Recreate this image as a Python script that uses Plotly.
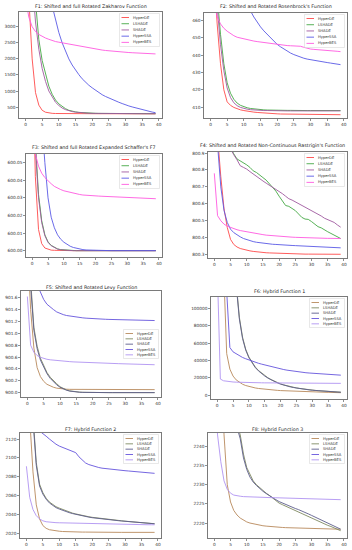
import plotly.graph_objects as go

W, H = 352, 550
iterations = list(range(40))
algorithms = ["HyperDE", "LSHADE", "SHADE", "HyperSSA", "HyperBES"]

titles = [
    "F1: Shifted and full Rotated Zakharov Function",
    "F2: Shifted and Rotated Rosenbrock's Function",
    "F3: Shifted and full Rotated Expanded Schaffer's F7",
    "F4: Shifted and Rotated Non-Continuous Rastrigin's Function",
    "F5: Shifted and Rotated Levy Function",
    "F6: Hybrid Function 1",
    "F7: Hybrid Function 2",
    "F8: Hybrid Function 3",
]

# ---------------- F1 ----------------
f1_hyperde = [9000, 3900, 2000, 950, 560, 400, 340, 315, 305, 300, 298, 297, 296, 296, 295, 295, 295, 294, 294, 294,
              294, 293, 293, 293, 293, 293, 292, 292, 292, 292, 292, 292, 291, 291, 291, 291, 291, 291, 290, 290]
f1_lshade = [12000, 8000, 5500, 3800, 2600, 1950, 1500, 1150, 900, 720, 600, 510, 450, 400, 370, 350, 335, 325, 318, 312,
             308, 305, 303, 302, 301, 300, 299, 299, 298, 298, 297, 297, 297, 296, 296, 296, 295, 295, 295, 295]
f1_shade = [10000, 7000, 4500, 3150, 2300, 1700, 1300, 1000, 800, 650, 550, 470, 420, 385, 360, 342, 330, 320, 314, 309,
            305, 303, 301, 300, 299, 298, 298, 297, 297, 296, 296, 296, 295, 295, 295, 294, 294, 294, 294, 294]
f1_hyperssa = [12000, 10000, 8500, 7300, 6300, 5500, 4800, 4200, 3650, 3200, 2820, 2500, 2230, 2000, 1810, 1650, 1510, 1380, 1270, 1180,
               1100, 1020, 950, 885, 830, 780, 735, 690, 650, 610, 565, 535, 505, 475, 445, 415, 390, 365, 345, 325]
f1_hyperbes = [3900, 3300, 3000, 2850, 2760, 2700, 2650, 2610, 2570, 2540, 2520, 2500, 2480, 2460, 2440, 2420, 2400, 2380, 2360, 2340,
               2320, 2305, 2290, 2275, 2262, 2250, 2240, 2230, 2220, 2212, 2205, 2198, 2192, 2186, 2180, 2175, 2170, 2165, 2160, 2155]

# ---------------- F2 ----------------
f2_hyperde = [520, 490, 458, 435, 420, 413, 411, 409.8, 409, 408.4, 408, 407.6, 407.3, 407.1, 406.9, 406.7, 406.5, 406.4, 406.3, 406.2,
              406.1, 406.0, 406.0, 405.9, 405.9, 405.9, 405.8, 405.8, 405.8, 405.8, 405.8, 405.7, 405.7, 405.7, 405.7, 405.7, 405.7, 405.7, 405.7, 405.6]
f2_lshade = [560, 510, 475, 452, 435, 424, 418, 414.5, 412.3, 411, 410.2, 409.6, 409.2, 408.9, 408.7, 408.5, 408.4, 408.3, 408.2, 408.2,
             408.1, 408.1, 408.1, 408.1, 408.1, 408.0, 408.0, 408.0, 408.0, 408.0, 408.0, 408.0, 408.0, 408.0, 408.0, 408.0, 408.0, 408.0, 408.0, 408.0]
f2_shade = [550, 500, 468, 446, 431, 421, 415.5, 412.5, 410.8, 409.8, 409.2, 408.8, 408.5, 408.3, 408.2, 408.1, 408.0, 408.0, 407.9, 407.9,
            407.9, 407.8, 407.8, 407.8, 407.8, 407.8, 407.8, 407.8, 407.8, 407.8, 407.8, 407.8, 407.8, 407.8, 407.8, 407.8, 407.8, 407.8, 407.8, 407.8]
f2_hyperssa = [540, 530, 520, 510, 500, 492, 486, 481, 477, 474, 471, 468, 465.5, 462, 459, 456.3, 454, 452, 450, 448,
               446.2, 444.8, 443.5, 442.3, 441.2, 440.3, 439.5, 438.8, 438.2, 437.7, 437.3, 436.9, 436.6, 436.3, 436.0, 435.7, 435.4, 435.1, 434.8, 434.5]
f2_hyperbes = [480, 470, 462, 458, 455.5, 453.8, 452.3, 451.2, 450.3, 449.8, 449.3, 448.9, 448.5, 448.1, 447.8, 447.5, 447.2, 447.0, 446.7, 446.4,
               446.2, 445.9, 445.7, 445.5, 445.4, 445.3, 445.2, 445.1, 444.5, 443.8, 443.5, 443.3, 443.2, 443.0, 442.8, 442.6, 442.5, 442.3, 442.2, 442.0]

# ---------------- F3 ----------------
f3_hyperde = [600.12, 600.042, 600.012, 600.004, 600.0015, 600.0007, 600.0003, 600.0002, 600.0001, 600.0001] + [600.0] * 30
f3_lshade = [600.15, 600.062, 600.032, 600.017, 600.009, 600.005, 600.003, 600.0018, 600.001, 600.0006,
             600.0004, 600.0002, 600.0001, 600.0001] + [600.0] * 26
f3_shade = [600.14, 600.058, 600.030, 600.016, 600.0085, 600.0047, 600.0028, 600.0016, 600.0009, 600.0005,
            600.0003, 600.0002, 600.0001] + [600.0] * 27
f3_hyperssa = [600.2, 600.15, 600.11, 600.075, 600.05, 600.03, 600.019, 600.013, 600.009, 600.0065,
               600.0048, 600.0035, 600.0025, 600.0018, 600.0013, 600.0009, 600.0006, 600.0004, 600.0003, 600.0002,
               600.0001] + [600.0] * 19
f3_hyperbes = [600.075, 600.055, 600.048, 600.044, 600.0415, 600.0395, 600.038, 600.0365, 600.0355, 600.0347,
               600.034, 600.0335, 600.033, 600.0326, 600.0322, 600.0319, 600.0316, 600.0314, 600.0313, 600.0312,
               600.0311, 600.031, 600.0309, 600.0308, 600.0307, 600.0306, 600.0305, 600.0304, 600.0303, 600.0302,
               600.0301, 600.03, 600.0299, 600.0299, 600.0298, 600.0297, 600.0297, 600.0296, 600.0296, 600.0295]

# ---------------- F4 ----------------
f4_hyperde = [801.5, 801.0, 800.76, 800.57, 800.46, 800.39, 800.36, 800.345, 800.336, 800.33, 800.326, 800.322, 800.319, 800.316, 800.314,
              800.312, 800.311, 800.31, 800.309, 800.308, 800.307, 800.306, 800.306, 800.305, 800.305, 800.304, 800.304, 800.304, 800.303,
              800.303, 800.303, 800.303, 800.302, 800.302, 800.302, 800.302, 800.302, 800.302, 800.302, 800.302]
f4_lshade = [801.3, 801.2, 801.1, 801.03, 800.97, 800.93, 800.895, 800.865, 800.853, 800.845, 800.83, 800.815, 800.795, 800.785, 800.768,
             800.755, 800.74, 800.72, 800.70, 800.675, 800.645, 800.615, 800.59, 800.585, 800.572, 800.56, 800.54, 800.52, 800.51, 800.508,
             800.495, 800.48, 800.465, 800.458, 800.445, 800.435, 800.425, 800.415, 800.405, 800.395]
f4_shade = [801.3, 801.2, 801.1, 801.02, 800.96, 800.92, 800.89, 800.86, 800.825, 800.815, 800.805, 800.79, 800.775, 800.762, 800.748,
            800.735, 800.722, 800.71, 800.698, 800.688, 800.675, 800.66, 800.645, 800.63, 800.622, 800.612, 800.6, 800.59, 800.578, 800.57,
            800.56, 800.55, 800.54, 800.528, 800.515, 800.505, 800.5, 800.49, 800.475, 800.462]
f4_hyperssa = [801.5, 800.95, 800.7, 800.56, 800.49, 800.45, 800.43, 800.415, 800.405, 800.395, 800.388, 800.382, 800.377, 800.373, 800.37,
               800.367, 800.365, 800.363, 800.361, 800.36, 800.358, 800.357, 800.356, 800.355, 800.354, 800.353, 800.352, 800.351, 800.35,
               800.349, 800.348, 800.347, 800.346, 800.345, 800.344, 800.343, 800.342, 800.341, 800.34, 800.34]
f4_hyperbes = [800.78, 800.53, 800.5, 800.48, 800.468, 800.46, 800.453, 800.447, 800.442, 800.438, 800.434, 800.43, 800.427, 800.424, 800.421,
               800.418, 800.415, 800.413, 800.411, 800.409, 800.407, 800.406, 800.405, 800.404, 800.403, 800.402, 800.401, 800.4, 800.4,
               800.399, 800.399, 800.398, 800.398, 800.397, 800.397, 800.396, 800.396, 800.396, 800.395, 800.395]

# ---------------- F5 ----------------
f5_hyperde = [902.5, 901.4, 900.75, 900.42, 900.27, 900.19, 900.14, 900.11, 900.09, 900.075, 900.065, 900.06, 900.057, 900.055, 900.055,
              900.054, 900.054, 900.053, 900.053, 900.053, 900.052, 900.052, 900.052, 900.052, 900.051, 900.051, 900.051, 900.051, 900.051,
              900.05, 900.05, 900.05, 900.05, 900.05, 900.05, 900.05, 900.05, 900.05, 900.05, 900.05]
f5_lshade = [903.5, 901.9, 901.1, 900.78, 900.58, 900.45, 900.34, 900.26, 900.2, 900.15, 900.1, 900.07, 900.045, 900.03, 900.02,
             900.012, 900.008, 900.005, 900.003, 900.002, 900.001] + [900.0] * 19
f5_shade = [903.3, 901.8, 901.05, 900.74, 900.55, 900.42, 900.32, 900.24, 900.18, 900.13, 900.09, 900.06, 900.04, 900.025, 900.015,
            900.01, 900.006, 900.004, 900.002, 900.001] + [900.0] * 20
f5_hyperssa = [902.5, 902.2, 902.0, 901.82, 901.69, 901.57, 901.49, 901.44, 901.4, 901.36, 901.335, 901.315, 901.3, 901.29, 901.28,
               901.272, 901.265, 901.26, 901.255, 901.25, 901.246, 901.243, 901.24, 901.238, 901.236, 901.234, 901.232, 901.23, 901.229,
               901.228, 901.227, 901.226, 901.225, 901.224, 901.222, 901.221, 901.22, 901.218, 901.216, 901.215]
f5_hyperbes = [901.62, 900.8, 900.68, 900.625, 900.595, 900.575, 900.562, 900.553, 900.546, 900.54, 900.535, 900.53, 900.526, 900.522, 900.518,
               900.515, 900.512, 900.51, 900.508, 900.506, 900.504, 900.502, 900.5, 900.498, 900.496, 900.494, 900.492, 900.49, 900.488,
               900.486, 900.484, 900.482, 900.48, 900.478, 900.477, 900.476, 900.474, 900.473, 900.471, 900.47]

# ---------------- F6 ----------------
f6_hyperde = [500000, 300000, 150000, 48000, 30000, 22000, 17500, 14500, 12500, 11000, 9800, 8900, 8200, 7600, 7100, 6700, 6300, 5950, 5650, 5400,
              5150, 4950, 4750, 4550, 4400, 4250, 4100, 3950, 3850, 3700, 3600, 3500, 3400, 3300, 3200, 3100, 3000, 2900, 2800, 2700]
f6_lshade = [1000000, 800000, 600000, 450000, 330000, 230000, 130000, 90000, 67000, 53000, 44000, 37500, 32500, 28500, 25300, 22500, 20000, 17900,
             16000, 14300, 12900, 11700, 10600, 9700, 8900, 8200, 7600, 7000, 6500, 6100, 5700, 5300, 5000, 4700, 4400, 4100, 3900, 3700, 3500, 3300]
f6_shade = [980000, 780000, 590000, 440000, 320000, 225000, 127000, 88000, 65500, 52000, 43200, 36800, 31900, 28000, 24800, 22000, 19600, 17500,
            15700, 14000, 12600, 11400, 10400, 9500, 8700, 8000, 7400, 6850, 6350, 5950, 5550, 5200, 4900, 4600, 4300, 4050, 3800, 3600, 3400, 3200]
f6_hyperssa = [800000, 500000, 250000, 120000, 55000, 50000, 47500, 45500, 43500, 42000, 40500, 39000, 37800, 36800, 35800, 34800, 33800, 32800,
               31800, 31000, 30200, 29500, 28800, 28200, 27600, 27100, 26600, 26200, 25800, 25500, 25200, 24900, 24600, 24300, 24000, 23800,
               23600, 23400, 23200, 23000]
f6_hyperbes = [150000, 18500, 16500, 15800, 15400, 15100, 14900, 14700, 14600, 14500, 14400, 14300, 14250, 14200, 14150, 14100, 14050, 14000,
               13950, 13900, 13870, 13840, 13810, 13780, 13750, 13720, 13700, 13680, 13660, 13640, 13620, 13600, 13590, 13580, 13570, 13560,
               13550, 13530, 13510, 13500]

# ---------------- F7 ----------------
f7_hyperde = [2200, 2140, 2085, 2050, 2035, 2028, 2025, 2023.5, 2022.7, 2022.2, 2021.9, 2021.6, 2021.4, 2021.3, 2021.2, 2021.1, 2021.0, 2021.0,
              2021.0, 2020.9, 2020.9, 2020.9, 2020.9, 2020.8, 2020.8, 2020.8, 2020.8, 2020.8, 2020.8, 2020.7, 2020.7, 2020.7, 2020.7, 2020.7,
              2020.7, 2020.7, 2020.7, 2020.7, 2020.7, 2020.7]
f7_lshade = [2250, 2190, 2145, 2095, 2072, 2063, 2057, 2053, 2050, 2048, 2046.5, 2045, 2043.5, 2042.3, 2041.2, 2040.3, 2039.4, 2038.6, 2037.9,
             2037.3, 2036.7, 2036.2, 2035.7, 2035.2, 2034.8, 2034.4, 2034.0, 2033.6, 2033.3, 2033.0, 2032.6, 2032.3, 2032.0, 2031.7, 2031.4,
             2031.1, 2030.8, 2030.5, 2030.2, 2029.9]
f7_shade = [2240, 2185, 2140, 2092, 2070, 2061.5, 2056, 2052, 2049, 2047, 2045.5, 2044, 2042.8, 2041.7, 2040.7, 2039.8, 2039.0, 2038.2, 2037.5,
            2036.9, 2036.3, 2035.8, 2035.3, 2034.9, 2034.5, 2034.1, 2033.7, 2033.4, 2033.1, 2032.8, 2032.5, 2032.2, 2031.9, 2031.6, 2031.3,
            2031.0, 2030.7, 2030.4, 2030.1, 2029.8]
f7_hyperssa = [2160, 2150, 2140, 2133, 2128.5, 2126, 2123, 2120, 2117, 2114.5, 2112.5, 2111, 2109.8, 2108.6, 2107.3, 2105.5, 2101, 2097.5,
               2094.5, 2092.8, 2091.5, 2090.5, 2089.7, 2089.0, 2088.5, 2088.0, 2087.6, 2087.3, 2087.0, 2086.7, 2086.3, 2086.0, 2085.7, 2085.3,
               2085.0, 2084.7, 2084.4, 2084.1, 2083.8, 2083.5]
f7_hyperbes = [2091, 2058, 2045, 2038.5, 2035, 2033, 2032, 2031.5, 2031.2, 2031.0, 2030.9, 2030.8, 2030.7, 2030.6, 2030.5, 2030.4, 2030.3, 2030.2,
               2030.1, 2030.0, 2029.9, 2029.8, 2029.7, 2029.6, 2029.5, 2029.4, 2029.4, 2029.3, 2029.3, 2029.2, 2029.2, 2029.1, 2029.1, 2029.0,
               2029.0, 2028.9, 2028.9, 2028.8, 2028.8, 2028.8]

# ---------------- F8 ----------------
f8_hyperde = [2300, 2280, 2260, 2243, 2230, 2225.5, 2223.3, 2222.1, 2221.3, 2220.7, 2220.3, 2220.0, 2219.8, 2219.6, 2219.45, 2219.3, 2219.2,
              2219.1, 2219.0, 2218.95, 2218.9, 2218.85, 2218.8, 2218.78, 2218.75, 2218.72, 2218.7, 2218.67, 2218.65, 2218.62, 2218.6, 2218.58,
              2218.55, 2218.52, 2218.5, 2218.48, 2218.45, 2218.42, 2218.4, 2218.38]
f8_lshade = [2300, 2290, 2280, 2270, 2262, 2255, 2250, 2246, 2243, 2238, 2234.5, 2232.5, 2231, 2230, 2229.2, 2228.5, 2227.8, 2227.2, 2226.5,
             2225.8, 2225.2, 2224.8, 2224.4, 2224.0, 2223.6, 2223.2, 2222.8, 2222.4, 2222.0, 2221.6, 2221.2, 2220.8, 2220.4, 2220.0, 2219.7,
             2219.4, 2219.1, 2218.8, 2218.4, 2218.0]
f8_shade = [2300, 2288, 2278, 2268, 2260, 2253, 2248, 2245, 2242, 2237, 2234, 2232, 2230.7, 2229.8, 2229.0, 2228.3, 2227.7, 2227.1, 2226.6,
            2226.1, 2225.6, 2225.2, 2224.9, 2224.5, 2224.2, 2223.8, 2223.5, 2223.2, 2222.8, 2222.4, 2222.0, 2221.6, 2221.1, 2220.6, 2220.2,
            2219.8, 2219.4, 2219.0, 2218.7, 2218.4]
f8_hyperssa = [2320, 2310, 2300, 2292, 2285, 2279, 2274, 2270, 2266, 2263, 2260, 2258, 2256, 2254, 2252.5, 2251, 2250, 2249, 2248, 2247.2,
               2246.5, 2246, 2245.5, 2245.2, 2245, 2244.8, 2244.6, 2244.5, 2244.4, 2244.3, 2244.2, 2244.1, 2244.0, 2244.0, 2243.9, 2243.9,
               2243.9, 2243.8, 2243.8, 2243.8]
f8_hyperbes = [2255, 2243, 2236, 2231, 2228.8, 2227.8, 2227.3, 2227.1, 2227.0, 2226.9, 2226.85, 2226.8, 2226.78, 2226.75, 2226.72, 2226.7, 2226.68,
               2226.65, 2226.62, 2226.6, 2226.58, 2226.55, 2226.52, 2226.5, 2226.48, 2226.45, 2226.42, 2226.4, 2226.38, 2226.35, 2226.32, 2226.3,
               2226.28, 2226.25, 2226.22, 2226.2, 2226.18, 2226.15, 2226.12, 2226.1]

panel_series = [
    [f1_hyperde, f1_lshade, f1_shade, f1_hyperssa, f1_hyperbes],
    [f2_hyperde, f2_lshade, f2_shade, f2_hyperssa, f2_hyperbes],
    [f3_hyperde, f3_lshade, f3_shade, f3_hyperssa, f3_hyperbes],
    [f4_hyperde, f4_lshade, f4_shade, f4_hyperssa, f4_hyperbes],
    [f5_hyperde, f5_lshade, f5_shade, f5_hyperssa, f5_hyperbes],
    [f6_hyperde, f6_lshade, f6_shade, f6_hyperssa, f6_hyperbes],
    [f7_hyperde, f7_lshade, f7_shade, f7_hyperssa, f7_hyperbes],
    [f8_hyperde, f8_lshade, f8_shade, f8_hyperssa, f8_hyperbes],
]

y_ranges = [
    [160, 3460], [403.7, 464.3], [599.9964, 600.0549], [800.28, 800.906],
    [899.926, 901.713], [-4600, 113500], [2014.7, 2126.4], [2216.1, 2243.5],
]
y_ticks = [
    [500, 1000, 1500, 2000, 2500, 3000],
    [410, 420, 430, 440, 450, 460],
    [600.00, 600.01, 600.02, 600.03, 600.04, 600.05],
    [800.3, 800.4, 800.5, 800.6, 800.7, 800.8, 800.9],
    [900.0, 900.2, 900.4, 900.6, 900.8, 901.0, 901.2, 901.4, 901.6],
    [0, 20000, 40000, 60000, 80000, 100000],
    [2020, 2040, 2060, 2080, 2100, 2120],
    [2220, 2225, 2230, 2235, 2240],
]
y_fmt = ["d", "d", ".2f", ".1f", ".1f", "d", "d", "d"]
x_ticks = [0, 5, 10, 15, 20, 25, 30, 35, 40]

colors_top = ["#ff4a4a", "#45a845", "#a05aa0", "#5a5ae6", "#ff5ae0"]
colors_bottom = ["#b88a5c", "#7f8a62", "#5e5e8c", "#6655dd", "#b094f2"]

# panel boxes in pixels: left, top, right, bottom
boxes = [
    (19, 12, 162, 118), (204, 13, 347, 118),
    (26, 154, 162, 257), (208, 152, 347, 258),
    (21, 291, 161, 397), (211, 297, 347, 399),
    (20, 433, 161, 538), (208, 433, 347, 538),
]
title_y = [7, 7, 148, 146, 287, 291, 429, 429]
title_x = [None, None, None, 272, None, None, None, None]
legend_loc = ["ur", "ur", "ur", "ur", "cr", "ur", "ur", "ur"]

FONT = "DejaVu Sans"
fig = go.Figure()
shapes = []
annotations = []

for i in range(8):
    n = i + 1
    xa = "x" if n == 1 else f"x{n}"
    ya = "y" if n == 1 else f"y{n}"
    cols = colors_top if i < 4 else colors_bottom
    for k, name in enumerate(algorithms):
        ys = panel_series[i][k]
        fig.add_trace(go.Scatter(
            x=iterations[:len(ys)], y=ys, mode="lines", name=name,
            line=dict(color=cols[k], width=1), opacity=0.9,
            xaxis=xa, yaxis=ya, showlegend=False, hoverinfo="skip"))
    l, t, r, b = boxes[i]
    axis_common = dict(showline=True, linecolor="#222", linewidth=0.6, mirror=True,
                       ticks="outside", ticklen=2, tickwidth=0.5, tickcolor="#222",
                       showgrid=False, zeroline=False,
                       tickfont=dict(family=FONT, size=4.3, color="#333"))
    fig.update_layout({
        ("xaxis" if n == 1 else f"xaxis{n}"): dict(
            domain=[l / W, r / W], anchor=ya, range=[-1.95, 40.95],
            tickvals=x_ticks, **axis_common),
        ("yaxis" if n == 1 else f"yaxis{n}"): dict(
            domain=[1 - b / H, 1 - t / H], anchor=xa, range=y_ranges[i],
            tickvals=y_ticks[i], tickformat=y_fmt[i], **axis_common),
    })
    tx = title_x[i] if title_x[i] is not None else (l + r) / 2
    annotations.append(dict(
        text=titles[i], x=tx / W, y=1 - title_y[i] / H, xref="paper", yref="paper",
        showarrow=False, xanchor="center", yanchor="middle",
        font=dict(family=FONT, size=4.8, color="#222")))

    # legend box
    lw, lh = (40, 33) if i < 4 else (35, 29)
    lr = r - 2.5
    ll = lr - lw
    if legend_loc[i] == "ur":
        lt = t + 1.5
    else:
        lt = (t + b) / 2 - lh / 2
    lb = lt + lh
    shapes.append(dict(type="rect", xref="paper", yref="paper", layer="above",
                       x0=ll / W, x1=lr / W, y0=1 - lb / H, y1=1 - lt / H,
                       line=dict(color="#d0d0d0", width=0.5),
                       fillcolor="rgba(255,255,255,0.85)"))
    step = (lh - 5) / 4.5
    for k, name in enumerate(algorithms):
        yy = lt + 4 + k * step
        shapes.append(dict(type="line", xref="paper", yref="paper", layer="above",
                           x0=(ll + 2) / W, x1=(ll + 9.5) / W, y0=1 - yy / H, y1=1 - yy / H,
                           line=dict(color=cols[k], width=0.9)))
        annotations.append(dict(
            text=name, x=(ll + 11.5) / W, y=1 - yy / H, xref="paper", yref="paper",
            showarrow=False, xanchor="left", yanchor="middle",
            font=dict(family=FONT, size=3.7, color="#333")))

fig.update_layout(
    width=W, height=H, margin=dict(l=0, r=0, t=0, b=0),
    paper_bgcolor="white", plot_bgcolor="white",
    showlegend=False, shapes=shapes, annotations=annotations,
)
fig.write_html("out.html", config={"displayModeBar": False, "staticPlot": True},
               post_script="document.body.style.margin='0';document.body.style.overflow='hidden';")
